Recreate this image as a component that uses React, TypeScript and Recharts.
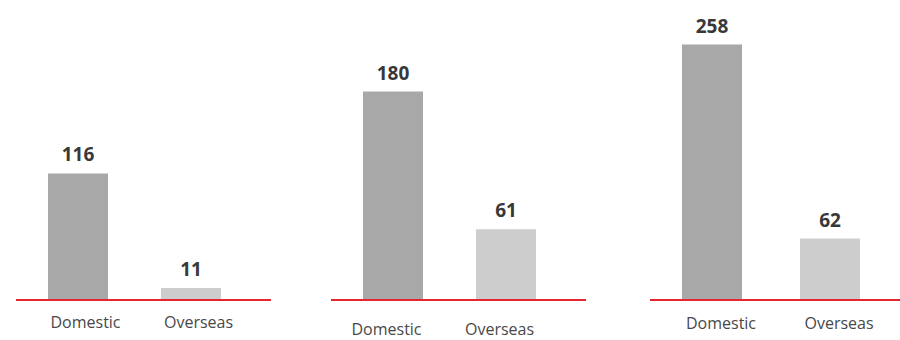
import React from 'react';
import { BarChart, Bar, XAxis, YAxis, Cell, LabelList } from 'recharts';

const categories = ['Domestic', 'Overseas'];
const leftValues = [116, 11];
const middleValues = [180, 61];
const rightValues = [258, 62];

const barColors = ['#a9a8a9', '#cdcdcd'];
const font = '"Open Sans", "DejaVu Sans", sans-serif';

const toRows = (values: number[]) => categories.map((name, i) => ({ name, value: values[i] }));

// one small chart per group, each with its own scale like the original
const panels = [
  { values: leftValues, left: 16, width: 255, yMax: 275, pad: { left: 5, right: 24 }, tickDx: 8, tickMargin: 11 },
  { values: middleValues, left: 331, width: 255, yMax: 259, pad: { left: 5, right: 24 }, tickDx: -6, tickMargin: 18 },
  { values: rightValues, left: 650, width: 250, yMax: 303, pad: { left: 3, right: 11 }, tickDx: 9, tickMargin: 12 },
];

const Panel: React.FC<{ p: typeof panels[number] }> = ({ p }) => (
  <div style={{ position: 'absolute', left: p.left, top: 0 }}>
    <BarChart width={p.width} height={340} data={toRows(p.values)} margin={{ top: 0, right: 0, left: 0, bottom: 0 }}>
      <YAxis hide domain={[0, p.yMax]} />
      <XAxis
        dataKey="name"
        height={40}
        interval={0}
        padding={p.pad}
        tickLine={false}
        axisLine={{ stroke: '#e3262f', strokeWidth: 1.4, shapeRendering: 'crispEdges' }}
        tickMargin={p.tickMargin}
        tick={{ fill: '#484848', fontSize: 16, fontFamily: font, dx: p.tickDx }}
      />
      <Bar dataKey="value" barSize={60} isAnimationActive={false}>
        {p.values.map((_, i) => (
          <Cell key={i} fill={barColors[i]} />
        ))}
        <LabelList
          dataKey="value"
          position="top"
          offset={12}
          fill="#383838"
          fontSize={19}
          fontWeight={700}
          fontFamily={font}
        />
      </Bar>
    </BarChart>
  </div>
);

const App: React.FC = () => {
  return (
    <div style={{ position: 'absolute', left: 0, top: 0, width: 900, height: 340, background: '#fff' }}>
      {panels.map((p, i) => (
        <Panel key={i} p={p} />
      ))}
    </div>
  );
};

export default App;
